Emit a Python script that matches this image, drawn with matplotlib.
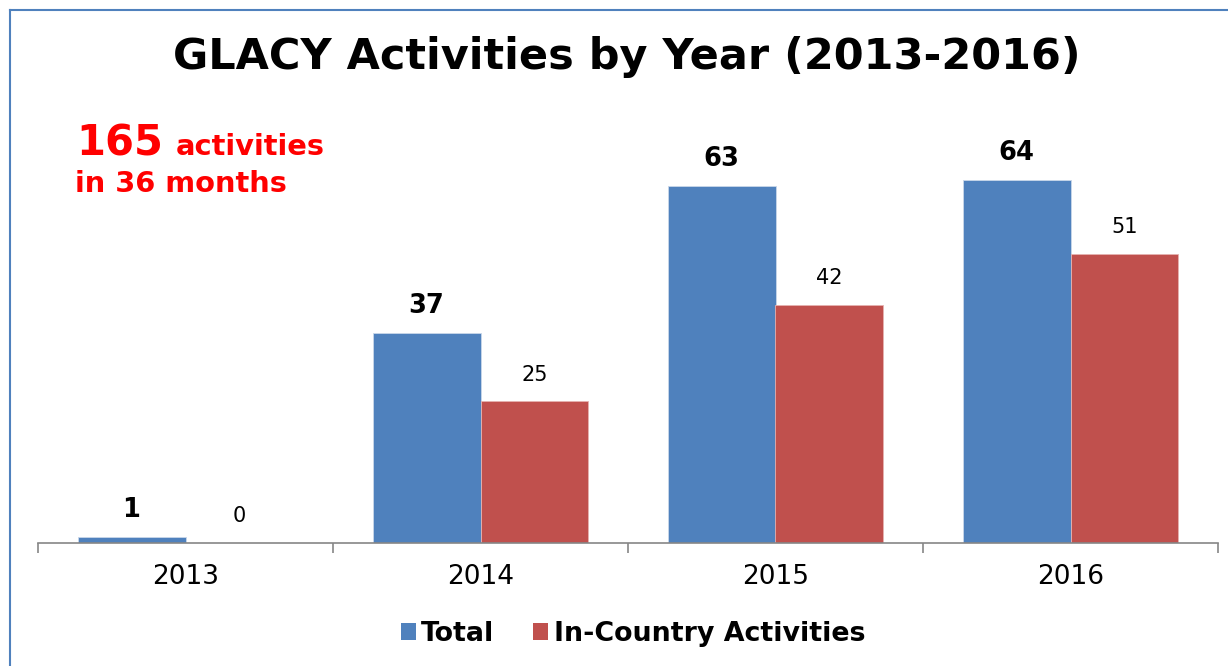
import matplotlib
matplotlib.use("Agg")
import matplotlib.pyplot as plt
from matplotlib.lines import Line2D
from matplotlib.patches import Patch
import numpy as np

years = ["2013", "2014", "2015", "2016"]
total = [1, 37, 63, 64]
in_country = [0, 25, 42, 51]

BLUE = "#4F81BD"
RED = "#C0504D"
W, H = 1228, 666

plt.rcParams['font.family'] = ['DejaVu Sans']
fig = plt.figure(figsize=(W / 100, H / 100), dpi=100)

ax_left, ax_right, ax_base = 38, 1218, 543
ymax = 70
ppu = 363 / 64.0
ax_h = ymax * ppu
ax = fig.add_axes([ax_left / W, (H - ax_base) / H, (ax_right - ax_left) / W, ax_h / H])

x = np.arange(len(years))
bw = 0.366
b1 = ax.bar(x - bw / 2, total, bw, color=BLUE, edgecolor="#C9D7EA", linewidth=0.6)
b2 = ax.bar(x + bw / 2, in_country, bw, color=RED, edgecolor="#E6B2B0", linewidth=0.6)

for xi, v in zip(x, total):
    ax.annotate(str(v), (xi - bw / 2, v), xytext=(0, 10), textcoords="offset points",
                ha="center", va="bottom", fontsize=18.5, fontweight="bold", color="black")
for xi, v in zip(x, in_country):
    ax.annotate(str(v), (xi + bw / 2, v), xytext=(0, 12), textcoords="offset points",
                ha="center", va="bottom", fontsize=15, color="black")

ax.set_xlim(-0.5, len(years) - 0.5)
ax.set_ylim(0, ymax)
for s in ["top", "right", "left"]:
    ax.spines[s].set_visible(False)
ax.spines["bottom"].set_color("#868686")
ax.spines["bottom"].set_linewidth(1.2)
ax.set_yticks([])
ax.set_xticks(np.arange(-0.5, len(years), 1.0))
ax.set_xticklabels([])
ax.tick_params(axis="x", length=7, color="#868686", width=1.2)
ax.set_xticks(x, minor=True)
ax.set_xticklabels(years, minor=True, fontsize=19)
ax.tick_params(axis="x", which="minor", length=0, pad=15)

fig.text(627 / W, 1 - 57 / H, "GLACY Activities by Year (2013-2016)", ha="center", va="center",
         fontsize=31, fontweight="bold", color="black")

fig.text(76 / W, 1 - 155 / H, "165", ha="left", va="baseline", fontsize=30, fontweight="bold", color="#FF0000")
fig.text(176 / W, 1 - 155 / H, "activities", ha="left", va="baseline", fontsize=20.8, fontweight="bold", color="#FF0000")
fig.text(75 / W, 1 - 192 / H, "in 36 months", ha="left", va="baseline", fontsize=20.8, fontweight="bold", color="#FF0000")

handles = [Patch(facecolor=BLUE, label="Total"), Patch(facecolor=RED, label="In-Country Activities")]
leg = fig.legend(handles=handles, loc="center", bbox_to_anchor=(633 / W, 1 - 634 / H), ncol=2,
                 frameon=False, prop={"weight": "bold", "size": 19.4}, handlelength=0.55, handleheight=0.55,
                 handletextpad=0.2, columnspacing=1.45)

# partial border (left and top)
fig.add_artist(Line2D([9.5 / W, 9.5 / W], [0, 1 - 9.5 / H], color=BLUE, linewidth=1.5))
fig.add_artist(Line2D([9.5 / W, 1], [1 - 9.5 / H, 1 - 9.5 / H], color=BLUE, linewidth=1.5))

fig.savefig("out.png", dpi=100, facecolor="white")
